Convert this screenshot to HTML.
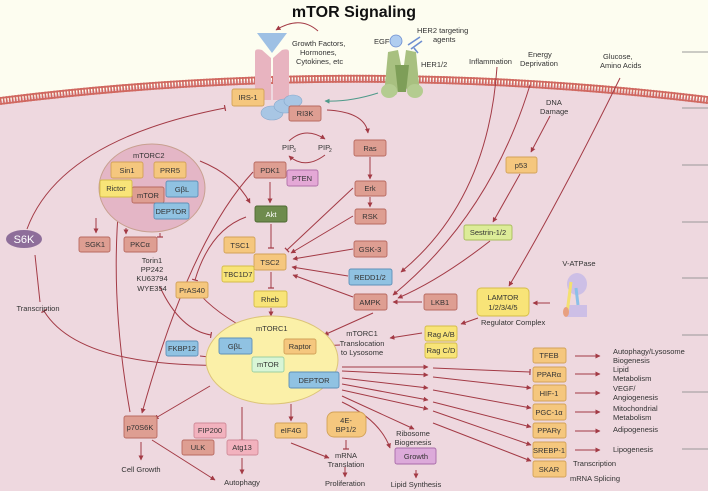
<!DOCTYPE html>
<html><head><meta charset="utf-8"><style>
html,body{margin:0;padding:0;background:#eed8df}
svg{display:block}
text{font-family:"Liberation Sans",sans-serif;font-size:7.5px;fill:#333}
</style></head><body>
<svg width="708" height="491" viewBox="0 0 708 491" xmlns="http://www.w3.org/2000/svg">
<defs>
<marker id="a" viewBox="0 0 10 10" refX="9" refY="5" markerWidth="5" markerHeight="5" orient="auto"><path d="M0,0 L10,5 L0,10 z" fill="#a33a45"/></marker>
<marker id="t" viewBox="0 0 10 10" refX="5" refY="5" markerWidth="6" markerHeight="6" orient="auto"><path d="M5,0 L5,10" stroke="#a33a45" stroke-width="2"/></marker>
<marker id="g" viewBox="0 0 10 10" refX="9" refY="5" markerWidth="5" markerHeight="5" orient="auto"><path d="M0,0 L10,5 L0,10 z" fill="#4e9a8a"/></marker>
</defs>
<rect width="708" height="491" fill="#eed8df"/>
<path d="M0,0 H708 V100 Q350,57 0,101 Z" fill="#fdfdf0"/>
<path d="M0,101 Q350,57 708,100" fill="none" stroke="#d06860" stroke-width="8" stroke-dasharray="1.6 1.4"/>
<path d="M0,98 Q350,54 708,97" fill="none" stroke="#d06860" stroke-width="1.8"/>
<path d="M0,104 Q350,60 708,103" fill="none" stroke="#d06860" stroke-width="1.8"/>
<g stroke="#999" stroke-width="1">
<path d="M682,52H708M682,108H708M682,165H708M682,222H708M682,278H708M682,335H708M682,392H708M682,449H708"/>
</g>
<text x="354" y="17" text-anchor="middle" style="font-size:16px;font-weight:bold;fill:#111">mTOR Signaling</text>
<path d="M255,52 Q255,48 262,50 L271,58 L271,100 L255,100 Z" fill="#e8b4c0"/>
<path d="M289,52 Q289,48 282,50 L273,58 L273,100 L289,100 Z" fill="#e8b4c0"/>
<path d="M257,33 L287,33 L272,53 Z" fill="#9ec0e4"/>
<path d="M318,31 Q300,15 276,30" fill="none" stroke="#a33a45" stroke-width="1" marker-end="url(#a)"/>
<text x="292" y="46">Growth Factors,</text><text x="300" y="55">Hormones,</text><text x="296" y="64">Cytokines, etc</text>
<g fill="#a8c6e4" stroke="#86a8cc" stroke-width=".6"><ellipse cx="272" cy="113" rx="11" ry="7"/><ellipse cx="285" cy="106" rx="11" ry="7"/><ellipse cx="293" cy="101" rx="9" ry="6"/></g>
<path d="M388,52 L398,50 L404,80 L396,95 L384,95 Z" fill="#a8c080"/>
<path d="M416,52 L406,50 L402,80 L410,95 L420,95 Z" fill="#a8c080"/>
<path d="M395,65 L409,65 L406,92 L398,92 Z" fill="#7e9e58"/>
<ellipse cx="389" cy="91" rx="8" ry="7" fill="#b4cc90"/><ellipse cx="415" cy="91" rx="8" ry="7" fill="#b4cc90"/>
<circle cx="396" cy="41" r="6" fill="#b0cdf0" stroke="#6e8ed0" stroke-width=".8"/>
<path d="M408,45 L420,37 M411,49 L422,41 M414,48 L418,53" stroke="#6e8ed0" stroke-width="1.6" fill="none"/>
<text x="374" y="44">EGF</text><text x="417" y="33">HER2 targeting</text><text x="433" y="42">agents</text><text x="421" y="67">HER1/2</text>
<path d="M378,93 Q350,102 325,101" fill="none" stroke="#4e9a8a" stroke-width="1" marker-end="url(#g)"/>
<text x="469" y="64">Inflammation</text><text x="528" y="57">Energy</text><text x="520" y="66">Deprivation</text>
<text x="603" y="59">Glucose,</text><text x="600" y="68">Amino Acids</text>
<text x="546" y="105">DNA</text><text x="540" y="114">Damage</text>
<text x="282" y="150">PIP</text><text x="293" y="152" style="font-size:5px">3</text>
<text x="318" y="150">PIP</text><text x="329" y="152" style="font-size:5px">2</text>

<g fill="none" stroke="#a33a45" stroke-width="1">
<path d="M327,110 Q365,112 368,133" marker-end="url(#a)"/>
<path d="M370,157 V179" marker-end="url(#a)"/><path d="M370,197 V207" marker-end="url(#a)"/>
<path d="M289,141 Q305,126 325,139" marker-end="url(#a)"/><path d="M325,155 Q305,170 289,156" marker-end="url(#a)"/>
<path d="M270,182 V203" marker-end="url(#a)"/>
<path d="M271,224 V248" marker-end="url(#t)"/>
<path d="M271,272 V288" marker-end="url(#t)"/>
<path d="M271,308 V316" marker-end="url(#a)"/>
<path d="M353,188 L287,250" marker-end="url(#t)"/>
<path d="M353,216 L291,253" marker-end="url(#a)"/>
<path d="M353,249 L293,259" marker-end="url(#a)"/>
<path d="M348,276 L292,267" marker-end="url(#a)"/>
<path d="M353,297 L293,275" marker-end="url(#a)"/>
<path d="M422,302 L393,302" marker-end="url(#a)"/>
<path d="M497,67 Q488,200 401,272" marker-end="url(#a)"/>
<path d="M530,85 Q490,215 393,295" marker-end="url(#a)"/>
<path d="M550,116 L531,152" marker-end="url(#a)"/>
<path d="M520,174 L493,222" marker-end="url(#a)"/>
<path d="M490,241 Q440,280 398,298" marker-end="url(#a)"/>
<path d="M620,78 Q560,200 509,286" marker-end="url(#a)"/>
<path d="M550,303 L533,303" marker-end="url(#a)"/>
<path d="M478,318 L461,324" marker-end="url(#a)"/>
<path d="M422,333 L390,338" marker-end="url(#a)"/>
<path d="M373,313 L324,335" marker-end="url(#a)"/>
<path d="M340,345 L318,346" marker-end="url(#a)"/>
<path d="M200,161 Q235,175 250,203" marker-end="url(#a)"/>
<path d="M96,218 V233" marker-end="url(#a)"/><path d="M126,228 V234" marker-end="url(#a)"/>
<path d="M160,233 V237" marker-end="url(#t)"/>
<path d="M253,172 Q190,240 142,413" marker-end="url(#a)"/>
<path d="M246,217 Q210,230 195,280" marker-end="url(#t)"/>
<path d="M119,203 Q110,300 130,412" />
<path d="M196,290 Q220,320 280,345" marker-end="url(#t)"/>
<path d="M160,287 Q180,330 211,335" marker-end="url(#t)"/>
<path d="M200,356 L246,361" marker-end="url(#t)"/>
<path d="M242,365 Q80,370 44,311" marker-end="url(#t)"/>
<path d="M27,229 Q60,140 225,108" marker-end="url(#t)"/>
<path d="M35,255 L40,302"/>
<path d="M210,386 L154,419" marker-end="url(#a)"/>
<path d="M242,407 V440" marker-end="url(#t)"/>
<path d="M291,404 V421" marker-end="url(#a)"/>
<path d="M141,442 V460" marker-end="url(#a)"/>
<path d="M152,440 L215,480" marker-end="url(#a)"/>
<path d="M242,458 V474" marker-end="url(#a)"/>
<path d="M291,443 L329,458" marker-end="url(#a)"/>
<path d="M346,440 V449" marker-end="url(#t)"/>
<path d="M345,467 V477" marker-end="url(#a)"/>
<path d="M416,470 V478" marker-end="url(#a)"/>
<path d="M290,378 Q268,383 266,374" marker-end="url(#t)"/>
<path d="M342,367 L428,367" marker-end="url(#a)"/>
<path d="M342,371 L428,375" marker-end="url(#a)"/>
<path d="M342,378 L428,388" marker-end="url(#a)"/>
<path d="M342,384 L428,400" marker-end="url(#a)"/>
<path d="M342,390 L428,409" marker-end="url(#a)"/>
<path d="M342,396 L414,429" marker-end="url(#a)"/>
<path d="M342,402 Q380,420 390,448" marker-end="url(#a)"/>
<path d="M433,368 L530,372" marker-end="url(#t)"/>
<path d="M433,377 L531,388" marker-end="url(#a)"/>
<path d="M433,390 L531,408" marker-end="url(#a)"/>
<path d="M433,402 L531,427" marker-end="url(#a)"/>
<path d="M433,411 L531,445" marker-end="url(#a)"/>
<path d="M433,423 L531,461" marker-end="url(#a)"/>
<path d="M575,356 H600" marker-end="url(#a)"/><path d="M575,374 H600" marker-end="url(#a)"/>
<path d="M575,393 H600" marker-end="url(#a)"/><path d="M575,412 H600" marker-end="url(#a)"/>
<path d="M575,431 H600" marker-end="url(#a)"/><path d="M575,450 H600" marker-end="url(#a)"/>
</g>

<ellipse cx="152" cy="188" rx="53" ry="44" fill="#e4b6c6" stroke="#c8a090" stroke-width="1"/>
<text x="133" y="158">mTORC2</text>
<ellipse cx="272" cy="360" rx="66" ry="44" fill="#fbf0a8" stroke="#dcc478" stroke-width="1"/>
<text x="256" y="331">mTORC1</text>

<g stroke-width=".9">
<g stroke="#b86a60" fill="#de9e92">
<rect x="289" y="106" width="32" height="15" rx="2"/><rect x="354" y="140" width="32" height="16" rx="2"/>
<rect x="355" y="181" width="31" height="15" rx="2"/><rect x="355" y="209" width="31" height="15" rx="2"/>
<rect x="354" y="241" width="33" height="16" rx="2"/><rect x="354" y="294" width="33" height="16" rx="2"/>
<rect x="424" y="294" width="33" height="16" rx="2"/><rect x="254" y="162" width="32" height="16" rx="2"/>
<rect x="132" y="187" width="32" height="16" rx="2"/><rect x="79" y="237" width="31" height="15" rx="2"/>
<rect x="124" y="237" width="33" height="15" rx="2"/><rect x="124" y="416" width="33" height="22" rx="2"/>
<rect x="182" y="440" width="32" height="15" rx="2"/>
</g>
<g stroke="#d2a258" fill="#f5c77e">
<rect x="232" y="89" width="32" height="17" rx="2"/><rect x="506" y="157" width="31" height="16" rx="2"/>
<rect x="224" y="237" width="31" height="16" rx="2"/><rect x="254" y="254" width="32" height="16" rx="2"/>
<rect x="176" y="282" width="32" height="16" rx="2"/><rect x="111" y="162" width="32" height="16" rx="2"/>
<rect x="154" y="162" width="32" height="16" rx="2"/><rect x="284" y="339" width="32" height="15" rx="2"/>
<rect x="275" y="423" width="32" height="15" rx="2"/><rect x="327" y="412" width="39" height="25" rx="7"/>
<rect x="533" y="348" width="33" height="15" rx="2"/><rect x="533" y="367" width="33" height="15" rx="2"/>
<rect x="533" y="385" width="33" height="16" rx="2"/><rect x="533" y="404" width="33" height="16" rx="2"/>
<rect x="533" y="423" width="33" height="15" rx="2"/><rect x="533" y="442" width="33" height="16" rx="2"/>
<rect x="533" y="461" width="33" height="16" rx="2"/>
</g>
<g stroke="#d4bc48" fill="#f8e478">
<rect x="100" y="180" width="32" height="17" rx="2"/><rect x="222" y="266" width="32" height="16" rx="2"/>
<rect x="254" y="291" width="33" height="16" rx="2"/><rect x="477" y="288" width="52" height="28" rx="4"/>
<rect x="425" y="326" width="32" height="15" rx="2"/><rect x="425" y="343" width="32" height="15" rx="2"/>
</g>
<g stroke="#5e90b8" fill="#90c2e2">
<rect x="166" y="181" width="32" height="16" rx="2"/><rect x="154" y="203" width="35" height="16" rx="2"/>
<rect x="349" y="269" width="43" height="16" rx="2"/><rect x="219" y="338" width="33" height="16" rx="2"/>
<rect x="289" y="372" width="50" height="16" rx="2"/><rect x="166" y="341" width="32" height="15" rx="2"/>
</g>
<rect x="464" y="225" width="48" height="15" rx="2" fill="#dcec98" stroke="#a8bc5c"/>
<rect x="252" y="357" width="32" height="15" rx="2" fill="#d8f5d6" stroke="#9cd0a0"/>
<rect x="255" y="206" width="32" height="16" rx="2" fill="#6e8b4d" stroke="#4e6a32"/>
<rect x="287" y="170" width="31" height="16" rx="2" fill="#e4a8d6" stroke="#b070a8"/>
<rect x="395" y="448" width="41" height="16" rx="2" fill="#dcaada" stroke="#a86aa8"/>
<rect x="194" y="423" width="32" height="15" rx="2" fill="#f2b2be" stroke="#d08a98"/>
<rect x="227" y="440" width="31" height="15" rx="2" fill="#f2b2be" stroke="#d08a98"/>
</g>
<ellipse cx="24" cy="239" rx="18" ry="9" fill="#8e6e9a"/>
<text x="24" y="243" text-anchor="middle" style="font-size:11px;fill:#fff">S6K</text>
<ellipse cx="577" cy="284" rx="10" ry="11" fill="#cdbfe6"/>
<rect x="567" y="305" width="20" height="12" fill="#cdbfe6"/>
<path d="M576,288 L578,305" stroke="#8cc0e8" stroke-width="3"/>
<path d="M571,282 L567,313" stroke="#f4e070" stroke-width="3"/>
<ellipse cx="566" cy="312" rx="3" ry="5" fill="#e8a080"/>
<text x="579" y="266" text-anchor="middle">V-ATPase</text>
<text x="481" y="325">Regulator Complex</text>

<g text-anchor="middle">
<text x="248" y="100">IRS-1</text><text x="305" y="116">RI3K</text>
<text x="370" y="151">Ras</text><text x="370" y="191">Erk</text><text x="370" y="219">RSK</text>
<text x="370" y="252">GSK-3</text><text x="370" y="280">REDD1/2</text><text x="370" y="305">AMPK</text>
<text x="440" y="305">LKB1</text><text x="521" y="168">p53</text><text x="488" y="235">Sestrin-1/2</text>
<text x="270" y="173">PDK1</text><text x="302" y="181">PTEN</text><text x="271" y="217" style="fill:#fff">Akt</text>
<text x="240" y="248">TSC1</text><text x="270" y="265">TSC2</text><text x="238" y="277">TBC1D7</text>
<text x="270" y="302">Rheb</text><text x="192" y="293">PrAS40</text>
<text x="127" y="173">Sin1</text><text x="170" y="173">PRR5</text><text x="116" y="191">Rictor</text>
<text x="148" y="198">mTOR</text><text x="182" y="192">GβL</text><text x="171" y="214">DEPTOR</text>
<text x="95" y="247">SGK1</text><text x="140" y="247">PKCα</text>
<text x="235" y="349">GβL</text><text x="300" y="349">Raptor</text><text x="268" y="367">mTOR</text>
<text x="314" y="383">DEPTOR</text><text x="182" y="351">FKBP12</text>
<text x="140" y="430">p70S6K</text><text x="210" y="433">FIP200</text><text x="198" y="450">ULK</text>
<text x="242" y="450">Atg13</text><text x="291" y="433">eIF4G</text>
<text x="346" y="423">4E-</text><text x="346" y="432">BP1/2</text>
<text x="416" y="459">Growth</text>
<text x="503" y="300">LAMTOR</text><text x="503" y="310">1/2/3/4/5</text>
<text x="441" y="337">Rag A/B</text><text x="441" y="353">Rag C/D</text>
<text x="549" y="358">TFEB</text><text x="549" y="377">PPARα</text><text x="549" y="396">HIF-1</text>
<text x="549" y="415">PGC-1α</text><text x="549" y="433">PPARγ</text><text x="549" y="453">SREBP-1</text>
<text x="549" y="472">SKAR</text>
<text x="152" y="263">Torin1</text><text x="152" y="272">PP242</text><text x="152" y="281">KU63794</text><text x="152" y="291">WYE354</text>
<text x="38" y="311">Transcription</text>
<text x="362" y="336">mTORC1</text><text x="362" y="346">Translocation</text><text x="362" y="355">to Lysosome</text>
<text x="141" y="472">Cell Growth</text><text x="242" y="485">Autophagy</text>
<text x="346" y="458">mRNA</text><text x="346" y="467">Translation</text><text x="345" y="486">Proliferation</text>
<text x="413" y="436">Ribosome</text><text x="413" y="445">Biogenesis</text><text x="416" y="487">Lipid Synthesis</text>
</g>
<g>
<text x="613" y="354">Autophagy/Lysosome</text><text x="613" y="363">Biogenesis</text>
<text x="613" y="372">Lipid</text><text x="613" y="381">Metabolism</text>
<text x="613" y="391">VEGF/</text><text x="613" y="400">Angiogenesis</text>
<text x="613" y="411">Mitochondrial</text><text x="613" y="420">Metabolism</text>
<text x="613" y="432">Adipogenesis</text><text x="613" y="452">Lipogenesis</text>
<text x="573" y="466">Transcription</text><text x="570" y="481">mRNA Splicing</text>
</g>
</svg>
</body></html>
